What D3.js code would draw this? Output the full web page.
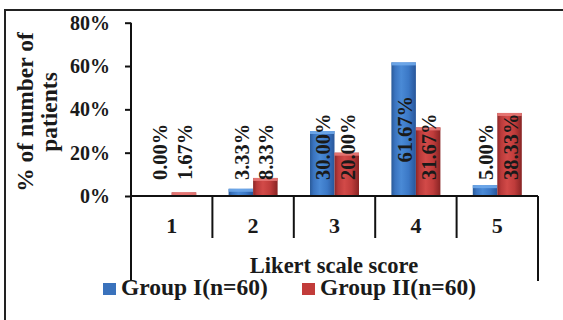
<!DOCTYPE html>
<html><head><meta charset="utf-8">
<script src="https://cdn.jsdelivr.net/npm/d3@7"></script>
<style>body{margin:0;background:#fff}svg{display:block}text{font-family:"Liberation Serif","Times New Roman",serif;font-weight:bold;fill:#1a1a1a}</style>
</head><body><div id="c"></div>
<script>
const categories = ["1","2","3","4","5"];
const seriesNames = ["Group I(n=60)","Group II(n=60)"];
const group1 = [0.00, 3.33, 30.00, 61.67, 5.00];
const group2 = [1.67, 8.33, 20.00, 31.67, 38.33];
const yTicks = [0, 20, 40, 60, 80];
const yTitle = ["% of number of","patients"];
const xTitle = "Likert scale score";

const W = 563, H = 320;
const svg = d3.select("#c").append("svg").attr("width", W).attr("height", H);
const defs = svg.append("defs");
function grad(id, stops){
  const g = defs.append("linearGradient").attr("id", id).attr("x1","0").attr("x2","1").attr("y1","0").attr("y2","0");
  stops.forEach(s => g.append("stop").attr("offset", s[0]).attr("stop-color", s[1]));
}
grad("gBlue", [[0,"#2a5a98"],[0.15,"#3a74c0"],[0.4,"#4a8ad6"],[0.7,"#3b78c6"],[1,"#28569a"]]);
grad("gRed", [[0,"#8c2626"],[0.15,"#b93a3a"],[0.4,"#d24a48"],[0.7,"#bf3c3b"],[1,"#882424"]]);
const colors = ["url(#gBlue)","url(#gRed)"];
const capColors = ["#6fa8ea","#e87a78"];
const legendColors = ["#3a72bc","#c23c3a"];

// outer border
svg.append("rect").attr("x",5).attr("y",10).attr("width",W+20).attr("height",H+20)
  .attr("fill","none").attr("stroke","#222").attr("stroke-width",2);

const x0 = 131, x1 = 538, y0 = 196, yTop = 22.7;
const x = d3.scaleBand().domain(categories).range([x0, x1]).paddingInner(0).paddingOuter(0);
const y = d3.scaleLinear().domain([0, 80]).range([y0, yTop]);
const barW = 24.5, gap = (x.bandwidth() - 2*barW)/2;

// y axis
const yAxis = d3.axisLeft(y).tickValues(yTicks).tickFormat(d => d + "%").tickSize(6).tickSizeOuter(0);
const gy = svg.append("g").attr("transform", `translate(${x0},0)`).call(yAxis);
gy.select(".domain").attr("stroke","#111").attr("stroke-width",2).attr("d", `M0,${yTop}V${y0}`);
gy.selectAll(".tick line").attr("stroke","#111").attr("stroke-width",2);
gy.selectAll(".tick text").attr("x",-21).attr("font-size","20px").attr("fill","#1a1a1a")
  .style("font-family","'Liberation Serif',serif").style("font-weight","bold");

// bars
const data = categories.map((c,i) => ({c, vals:[group1[i], group2[i]]}));
const gBars = svg.append("g");
data.forEach(d => {
  d.vals.forEach((v, s) => {
    const bx = x(d.c) + gap + s*barW;
    const by = y(v), bh = y0 - y(v);
    if (bh > 0.5) {
      gBars.append("rect").attr("x", bx).attr("y", by).attr("width", barW).attr("height", bh).attr("fill", colors[s]);
      gBars.append("rect").attr("x", bx).attr("y", by).attr("width", barW).attr("height", Math.min(3, bh)).attr("fill", capColors[s]).attr("opacity",0.9);
    }
  });
});

// x axis lines
const gx = svg.append("g").attr("stroke","#111").attr("stroke-width",2);
gx.append("line").attr("x1", x0).attr("x2", x1).attr("y1", y0).attr("y2", y0);
gx.append("line").attr("x1", x0).attr("x2", x0).attr("y1", y0).attr("y2", 281);
gx.append("line").attr("x1", x1).attr("x2", x1).attr("y1", y0).attr("y2", 281);
categories.slice(1).forEach(c => gx.append("line").attr("x1", x(c)).attr("x2", x(c)).attr("y1", y0).attr("y2", 238));

// category labels
svg.append("g").selectAll("text").data(categories).join("text")
  .attr("x", d => x(d) + x.bandwidth()/2).attr("y", 233).attr("text-anchor","middle")
  .attr("font-size","22px").text(d => d);

// data labels
const labelLen = 67;
data.forEach(d => {
  d.vals.forEach((v, s) => {
    const cx = x(d.c) + gap + s*barW + barW/2 + 1;
    const bh = y0 - y(v);
    const inside = bh > labelLen + 40;
    svg.append("text")
      .attr("transform", inside ? `translate(${cx},${(y(v) + y0)/2}) rotate(-90)` : `translate(${cx},${y0-16}) rotate(-90)`)
      .attr("text-anchor", inside ? "middle" : "start").attr("dominant-baseline","central")
      .attr("font-size","20.5px").text(v.toFixed(2) + "%");
  });
});

// y title
const yt = svg.append("text").attr("transform","translate(0,112) rotate(-90)").attr("text-anchor","middle").attr("font-size","23.5px");
yt.append("tspan").attr("x",0).attr("y",33).text(yTitle[0]);
yt.append("tspan").attr("x",0).attr("y",57).text(yTitle[1]);

// x title
svg.append("text").attr("x",334).attr("y",273).attr("text-anchor","middle").attr("font-size","22.5px").text(xTitle);

// legend
const legX = [103, 302];
seriesNames.forEach((n,i) => {
  svg.append("rect").attr("x", legX[i]).attr("y", 283).attr("width",13).attr("height",12).attr("fill", legendColors[i]);
  svg.append("text").attr("x", legX[i] + 18).attr("y", 295).attr("font-size","23.5px").text(n);
});
</script></body></html>
